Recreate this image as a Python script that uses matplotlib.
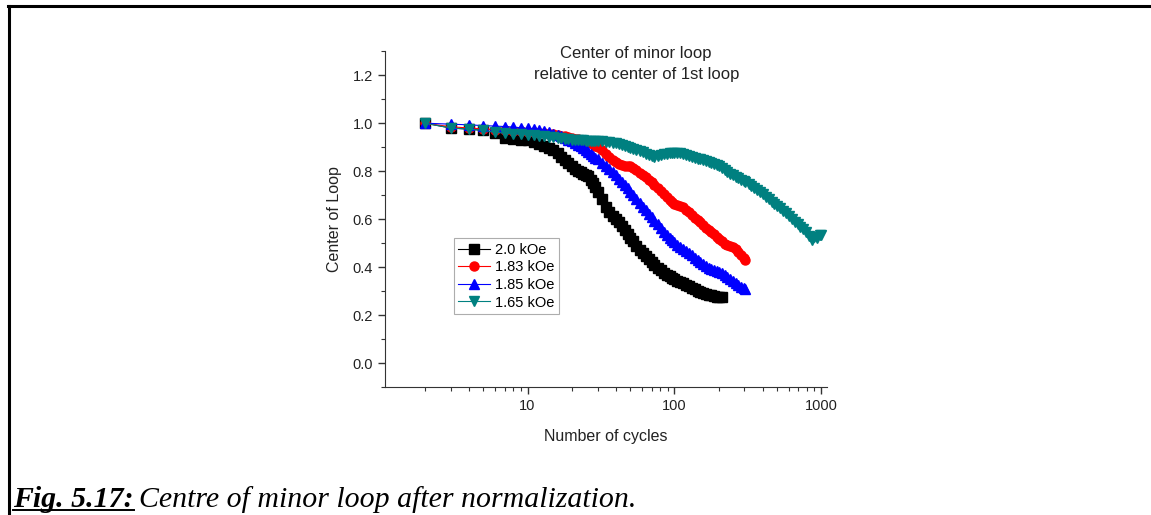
import numpy as np
import matplotlib.pyplot as plt
from matplotlib.lines import Line2D
from matplotlib.ticker import FixedLocator, LogLocator, NullFormatter, FormatStrFormatter

plt.rcParams['font.family'] = ['Liberation Sans', 'DejaVu Sans']

# cycle numbers read along the log axis
x_base = list(range(2, 31)) + [
    32, 34, 36, 38, 40, 42, 44, 46, 48, 50,
    52, 55, 58, 61, 64, 67, 70, 73, 77, 81,
    85, 89, 93, 97, 100, 105, 110, 115, 120, 126,
    132, 138, 144, 150, 157, 164, 171, 178, 186, 194,
    202, 210]
x_long = x_base + [220, 230, 240, 250, 261, 272, 284, 296, 305]
x_teal = x_long + [320, 335, 350, 366, 383, 400, 420, 440, 460, 480,
                   500, 525, 550, 575, 600, 630, 660, 690, 720, 750,
                   785, 820, 860, 900, 940, 980, 1000]

# 2.0 kOe
y_20 = [1.00, 0.98, 0.975, 0.97, 0.96, 0.94, 0.935, 0.932, 0.928, 0.922,
        0.915, 0.907, 0.898, 0.887, 0.874, 0.861, 0.848, 0.835, 0.822, 0.81,
        0.80, 0.795, 0.79, 0.786, 0.778, 0.765, 0.75, 0.733, 0.715,
        0.685, 0.652, 0.63, 0.614, 0.60, 0.588, 0.572, 0.555, 0.538, 0.522,
        0.508, 0.49, 0.472, 0.458, 0.445, 0.433, 0.421, 0.41, 0.398, 0.386,
        0.376, 0.369, 0.362, 0.355, 0.351, 0.344, 0.338, 0.332, 0.326, 0.32,
        0.314, 0.308, 0.302, 0.297, 0.292, 0.288, 0.285, 0.282, 0.279, 0.277,
        0.275, 0.274]

# 1.83 kOe
y_183 = [1.00, 0.985, 0.98, 0.976, 0.973, 0.971, 0.969, 0.967, 0.965, 0.963,
         0.961, 0.958, 0.956, 0.953, 0.951, 0.948, 0.945, 0.942, 0.939, 0.936,
         0.933, 0.931, 0.928, 0.925, 0.921, 0.917, 0.912, 0.906, 0.90,
         0.888, 0.873, 0.86, 0.848, 0.838, 0.831, 0.826, 0.823, 0.822, 0.82,
         0.814, 0.804, 0.794, 0.784, 0.774, 0.764, 0.753, 0.743, 0.73, 0.717,
         0.705, 0.693, 0.681, 0.671, 0.664, 0.658, 0.655, 0.649, 0.64, 0.628,
         0.617, 0.606, 0.596, 0.586, 0.575, 0.565, 0.555, 0.546, 0.537, 0.527,
         0.517, 0.507,
         0.498, 0.492, 0.488, 0.483, 0.475, 0.464, 0.452, 0.437, 0.428]

# 1.85 kOe
y_185 = [1.00, 0.996, 0.993, 0.99, 0.988, 0.986, 0.984, 0.981, 0.978, 0.975,
         0.971, 0.967, 0.962, 0.957, 0.952, 0.946, 0.94, 0.932, 0.924, 0.917,
         0.91, 0.903, 0.896, 0.888, 0.88, 0.872, 0.864, 0.856, 0.849,
         0.836, 0.823, 0.81, 0.796, 0.782, 0.768, 0.755, 0.742, 0.728, 0.715,
         0.702, 0.685, 0.668, 0.652, 0.637, 0.622, 0.608, 0.594, 0.578, 0.562,
         0.547, 0.534, 0.522, 0.511, 0.503, 0.492, 0.483, 0.475, 0.468, 0.459,
         0.449, 0.439, 0.429, 0.42, 0.412, 0.404, 0.398, 0.393, 0.388, 0.384,
         0.38, 0.375,
         0.367, 0.358, 0.35, 0.343, 0.335, 0.327, 0.319, 0.312, 0.308]

# 1.65 kOe
y_165 = [1.00, 0.98, 0.975, 0.97, 0.962, 0.959, 0.956, 0.954, 0.951, 0.949,
         0.947, 0.945, 0.943, 0.941, 0.939, 0.937, 0.935, 0.933, 0.931, 0.93,
         0.929, 0.928, 0.928, 0.927, 0.927, 0.926, 0.926, 0.926, 0.925,
         0.924, 0.923, 0.921, 0.919, 0.916, 0.913, 0.91, 0.906, 0.902, 0.898,
         0.894, 0.888, 0.883, 0.878, 0.873, 0.867, 0.862, 0.86, 0.863, 0.868,
         0.871, 0.873, 0.875, 0.876, 0.877, 0.876, 0.874, 0.871, 0.868, 0.864,
         0.86, 0.856, 0.852, 0.849, 0.845, 0.842, 0.838, 0.834, 0.83, 0.825,
         0.82, 0.814,
         0.806, 0.798, 0.79, 0.782, 0.776, 0.77, 0.765, 0.759, 0.754,
         0.746, 0.737, 0.728, 0.72, 0.712, 0.703, 0.692, 0.682, 0.673, 0.664,
         0.656, 0.645, 0.634, 0.624, 0.613, 0.602, 0.59, 0.579, 0.568, 0.558,
         0.547, 0.53, 0.515, 0.525, 0.52, 0.535, 0.535]

series = [
    (x_base, y_20, 'black', 's', '2.0 kOe'),
    (x_long, y_183, 'red', 'o', '1.83 kOe'),
    (x_long, y_185, 'blue', '^', '1.85 kOe'),
    (x_teal, y_165, '#008080', 'v', '1.65 kOe'),
]

fig = plt.figure(figsize=(11.51, 5.15), dpi=100)
ax = fig.add_axes([0.3345, 0.2485, 0.384, 0.652])

for xs, ys, col, mk, lab in series:
    ax.plot(xs, ys, color=col, marker=mk, markersize=6.5, linewidth=0.8,
            markeredgecolor=col, label=lab)

ax.set_xscale('log')
ax.set_xlim(1.07, 1095)
ax.set_ylim(-0.1, 1.3)

ax.xaxis.set_major_locator(FixedLocator([10, 100, 1000]))
ax.xaxis.set_major_formatter(FormatStrFormatter('%d'))
ax.xaxis.set_minor_locator(LogLocator(base=10, subs=np.arange(2, 10)))
ax.xaxis.set_minor_formatter(NullFormatter())
ax.set_yticks(np.arange(0, 1.21, 0.2))
ax.yaxis.set_major_formatter(FormatStrFormatter('%.1f'))
ax.set_yticks(np.arange(-0.1, 1.31, 0.1), minor=True)

for s in ['top', 'right']:
    ax.spines[s].set_visible(False)
for s in ['left', 'bottom']:
    ax.spines[s].set_color('#333333')
ax.tick_params(which='major', direction='out', length=5, width=1, colors='#333333',
               labelsize=10.5, labelcolor='#222222')
ax.tick_params(which='minor', direction='out', length=3, width=0.8, colors='#333333')

ax.set_xlabel('Number of cycles', fontsize=11.5, color='#222222', labelpad=12)
ax.set_ylabel('Center of Loop', fontsize=11.5, color='#222222', labelpad=8)

ax.text(55, 1.245, 'Center of minor loop\nrelative to center of 1st loop',
        ha='center', va='center', fontsize=12, color='#222222', linespacing=1.5)

leg = ax.legend(loc='upper left', bbox_to_anchor=(0.156, 0.443), fontsize=10.5,
                frameon=True, fancybox=False, edgecolor='#999999',
                handlelength=2.2, handletextpad=0.3, borderpad=0.3,
                labelspacing=0.25, borderaxespad=0)
leg.get_frame().set_linewidth(0.8)

# page frame (top and left rule)
fig.add_artist(Line2D([8 / 1151, 1.0], [1 - 6 / 515, 1 - 6 / 515],
                      color='black', linewidth=2.2))
fig.add_artist(Line2D([9 / 1151, 9 / 1151], [0.0, 1 - 6 / 515],
                      color='black', linewidth=2.2))

# caption
cap_y = 8 / 515
t = fig.text(13 / 1151, cap_y, 'Fig. 5.17:', fontsize=21.5, family='Liberation Serif',
             style='italic', weight='bold')
fig.canvas.draw()
bb = t.get_window_extent()
fig.add_artist(Line2D([bb.x0 / 1151, bb.x1 / 1151], [5 / 515, 5 / 515],
                      color='black', linewidth=1.4))
fig.text(bb.x1 / 1151 + 5 / 1151, cap_y, 'Centre of minor loop after normalization.',
         fontsize=21.5, family='Liberation Serif', style='italic')

fig.savefig('out.png', dpi=100)
